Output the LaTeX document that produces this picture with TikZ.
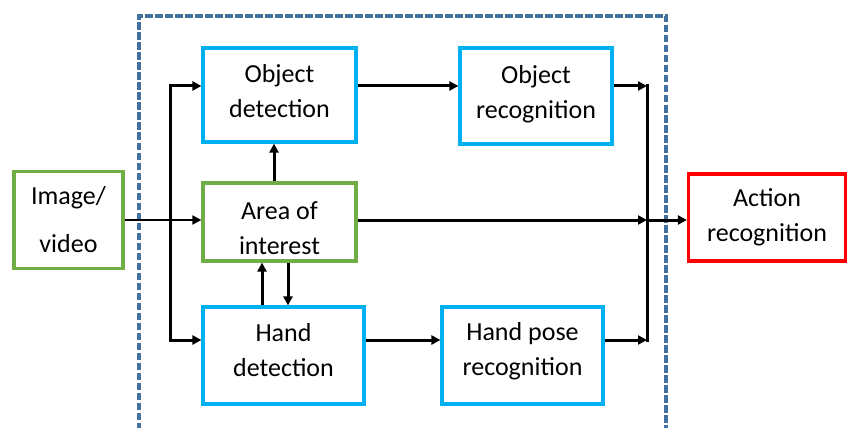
\documentclass[tikz,border=0pt]{standalone}
\usepackage{fontspec}
\setmainfont{Carlito}
\usetikzlibrary{arrows.meta,calc}

\definecolor{boxgreen}{HTML}{70AD47}
\definecolor{boxcyan}{HTML}{00B0F0}
\definecolor{boxred}{HTML}{FF0000}
\definecolor{frameblue}{HTML}{41719C}

\tikzset{
  blockbase/.style={draw, line width=3.2pt, fill=white, inner sep=0pt},
  greenbox/.style={blockbase, draw=boxgreen},
  cyanbox/.style={blockbase, draw=boxcyan},
  redbox/.style={blockbase, draw=boxred},
  every label/.style={align=center, inner sep=0pt, font=\fontsize{26}{35}\selectfont},
  flow/.style={line width=3pt, -{Triangle[length=9pt,width=9pt]}},
  busline/.style={line width=3pt},
  thinflow/.style={line width=1.9pt, -{Triangle[length=9pt,width=9pt]}},
  frame/.style={draw=frameblue, line width=3.2pt, dash pattern=on 7.5pt off 2.5pt}
}

\begin{document}
\begin{tikzpicture}[x=1pt, y=-1pt]
  \useasboundingbox (0,0) rectangle (847,428);

  % dashed frame around the processing stage (open at the bottom)
  \draw[frame] (139,430) -- (139,16) -- (666,16) -- (666,430);

  % blocks
  \node[greenbox, minimum width=109pt, minimum height=97pt,
    label={center:{Image/\\[13pt]video}}] (img) at (68.5,220) {};
  \node[greenbox, minimum width=153pt, minimum height=78pt,
    label={[yshift=-6pt]center:{Area of\\interest}}] (aoi) at (279.5,222) {};
  \node[cyanbox, minimum width=153pt, minimum height=94pt,
    label={[yshift=4pt]center:{Object\\detection}}] (objdet) at (279.5,95) {};
  \node[cyanbox, minimum width=152pt, minimum height=96pt,
    label={[yshift=2pt]center:{Object\\recognition}}] (objrec) at (536,96) {};
  \node[cyanbox, minimum width=161pt, minimum height=97pt,
    label={[yshift=5pt]center:{Hand\\detection}}] (handdet) at (283.5,355.5) {};
  \node[cyanbox, minimum width=161pt, minimum height=97pt,
    label={[yshift=4pt]center:{Hand pose\\recognition}}] (handpose) at (522.5,355.5) {};
  \node[redbox, minimum width=157pt, minimum height=87pt,
    label={center:{Action\\recognition}}] (action) at (767,217.5) {};

  % junction points of the two vertical buses
  \coordinate (busL) at (170,220);
  \coordinate (busR) at (647,220);
  \coordinate (busLtop) at ([yshift=9pt]objdet.west -| busL);
  \coordinate (busLbot) at ([yshift=15.5pt]handdet.west -| busL);
  \coordinate (busRtop) at ([yshift=10pt]objrec.east -| busR);
  \coordinate (busRbot) at ([yshift=15.5pt]handpose.east -| busR);

  % input feeds the area of interest
  \draw[thinflow] (img.east) -- (aoi.west |- img.east);

  % left bus fans out to the two detectors
  \draw[busline] ([yshift=1.5pt]busLtop) -- ([yshift=-1.5pt]busLbot);
  \draw[flow] (busLtop) -- ([yshift=9pt]objdet.west);
  \draw[flow] (busLbot) -- ([yshift=15.5pt]handdet.west);

  % detection to recognition
  \draw[flow] ([yshift=9pt]objdet.east) -- ([yshift=9pt]objdet.east -| objrec.west);
  \draw[flow] ([yshift=15.5pt]handdet.east) -- ([yshift=15.5pt]handpose.west);

  % area of interest exchanges
  \draw[flow] ([xshift=-5.5pt]aoi.north) -- ([xshift=-5.5pt]objdet.south);
  \draw[flow] ([xshift=-21.5pt]handdet.north) -- ([xshift=-21.5pt]handdet.north |- aoi.south);
  \draw[flow] ([xshift=4.5pt]handdet.north |- aoi.south) -- ([xshift=4.5pt]handdet.north);

  % right bus collects everything into action recognition
  \draw[busline] ([yshift=1.5pt]busRtop) -- ([yshift=-1.5pt]busRbot);
  \draw[flow] ([yshift=10pt]objrec.east) -- (busRtop);
  \draw[flow] ([yshift=15.5pt]handpose.east) -- (busRbot);
  \draw[flow] (aoi.east |- busR) -- (busR);
  \draw[flow] (busR) -- (action.west |- busR);
\end{tikzpicture}
\end{document}
